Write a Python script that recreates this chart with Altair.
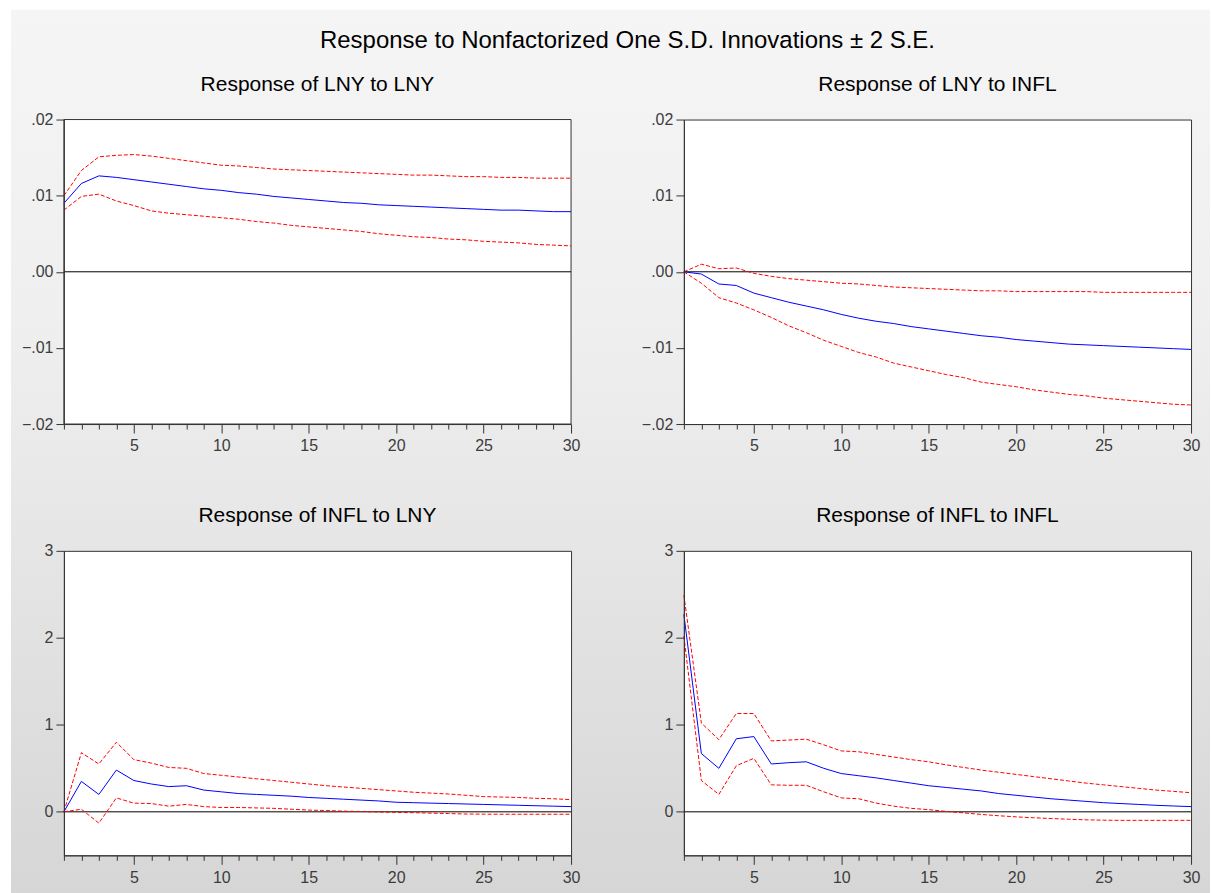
import altair as alt
import pandas as pd

# Horizon (periods after the shock)
periods = list(range(1, 31))

# Response of LNY to LNY
lny_lny = [.0090, .0116, .0126, .0124, .0121, .0118, .0115, .0112, .0109, .0107,
           .0104, .0102, .0099, .0097, .0095, .0093, .0091, .0090, .0088, .0087,
           .0086, .0085, .0084, .0083, .0082, .0081, .0081, .0080, .0079, .0079]
lny_lny_hi = [.0100, .0133, .0151, .0153, .0154, .0152, .0149, .0146, .0143, .0140,
              .0139, .0137, .0135, .0134, .0133, .0132, .0131, .0130, .0129, .0128,
              .0127, .0127, .0126, .0125, .0125, .0124, .0124, .0123, .0123, .0123]
lny_lny_lo = [.0081, .0099, .0102, .0093, .0087, .0080, .0077, .0075, .0073, .0071,
              .0069, .0066, .0064, .0061, .0059, .0057, .0055, .0053, .0050, .0048,
              .0046, .0045, .0043, .0042, .0040, .0039, .0038, .0036, .0035, .0034]

# Response of LNY to INFL
lny_infl = [0, -.0003, -.0016, -.0018, -.0028, -.0034, -.0040, -.0045, -.0050, -.0056,
            -.0061, -.0065, -.0068, -.0072, -.0075, -.0078, -.0081, -.0084, -.0086, -.0089,
            -.0091, -.0093, -.0095, -.0096, -.0097, -.0098, -.0099, -.0100, -.0101, -.0102]
lny_infl_hi = [0, .0010, .0004, .0005, -.0002, -.0006, -.0009, -.0011, -.0013, -.0015,
               -.0016, -.0018, -.0020, -.0021, -.0022, -.0023, -.0024, -.0025, -.0025, -.0026,
               -.0026, -.0026, -.0026, -.0026, -.0027, -.0027, -.0027, -.0027, -.0027, -.0027]
lny_infl_lo = [0, -.0015, -.0034, -.0041, -.0050, -.0060, -.0071, -.0080, -.0090, -.0098,
               -.0106, -.0112, -.0120, -.0125, -.0130, -.0135, -.0139, -.0145, -.0148, -.0151,
               -.0155, -.0158, -.0161, -.0163, -.0166, -.0168, -.0170, -.0172, -.0174, -.0175]

# Response of INFL to LNY
infl_lny = [0, .35, .20, .48, .36, .32, .29, .30, .25, .23,
            .21, .20, .19, .18, .165, .155, .145, .135, .125, .11,
            .105, .10, .095, .09, .085, .08, .075, .07, .065, .06]
infl_lny_hi = [0, .68, .55, .80, .60, .56, .51, .50, .44, .42,
               .40, .38, .36, .34, .32, .30, .285, .27, .255, .24,
               .225, .215, .205, .19, .175, .17, .165, .155, .15, .14]
infl_lny_lo = [0, .03, -.13, .16, .10, .095, .065, .085, .06, .05,
               .05, .045, .04, .03, .02, .015, .008, .003, -.002, -.006,
               -.01, -.015, -.02, -.025, -.027, -.028, -.028, -.028, -.028, -.028]

# Response of INFL to INFL
infl_infl = [2.27, .67, .50, .84, .865, .55, .565, .575, .50, .44,
             .415, .39, .36, .33, .30, .28, .26, .24, .21, .19,
             .17, .15, .135, .12, .105, .095, .085, .075, .067, .06]
infl_infl_hi = [2.49, 1.02, .83, 1.13, 1.13, .815, .825, .835, .77, .70,
                .69, .66, .63, .60, .575, .54, .51, .48, .455, .43,
                .405, .38, .355, .33, .31, .29, .27, .25, .235, .22]
infl_infl_lo = [2.02, .36, .20, .53, .615, .31, .305, .305, .23, .16,
                .15, .10, .065, .04, .025, .005, -.012, -.03, -.045, -.058,
                -.068, -.077, -.085, -.092, -.096, -.098, -.098, -.098, -.098, -.098]

FONT = "Liberation Sans, Arial, sans-serif"
W, H = 508, 305
INK = "#333333"
LABEL = "#3c3c3c"

one_row = pd.DataFrame({"k": [0]})


def x_axis():
    return alt.Axis(
        values=periods,
        labelExpr="datum.value % 5 === 0 ? datum.label : ''",
        tickSize={"condition": {"test": "datum.value % 5 === 0", "value": 9}, "value": 5},
        labelPadding=5, labelFontSize=16, labelFont=FONT, labelColor=LABEL,
        tickColor=INK, domainColor=INK, grid=False, labelOverlap=False,
        labelFlush=False, zindex=1, title=None,
    )


def y_axis(values, small):
    kw = dict(values=values, tickSize=8, labelPadding=3, labelFontSize=16,
              labelFont=FONT, labelColor=LABEL, tickColor=INK, domainColor=INK,
              grid=False, labelOverlap=False, labelFlush=False, zindex=1, title=None)
    if small:
        kw["labelExpr"] = "replace(format(datum.value, '.2f'), '0.', '.')"
    else:
        kw["format"] = "d"
    return alt.Axis(**kw)


def panel(title, resp, lo, hi, ydomain, yvalues, small, decor=None):
    df = pd.DataFrame({"period": periods, "Response": resp, "Lower": lo, "Upper": hi})
    xs = alt.X("period:Q", scale=alt.Scale(domain=[1, 30], nice=False, zero=False), axis=x_axis())
    ys = alt.Scale(domain=ydomain, nice=False, zero=False)
    base = alt.Chart(df)

    zero = alt.Chart(one_row).mark_rule(color="#000000", strokeWidth=1).encode(y=alt.datum(0))
    bands = base.transform_fold(["Lower", "Upper"], as_=["band", "value"]).mark_line(
        color="#ff0000", strokeWidth=1, strokeDash=[4, 2]
    ).encode(x=xs, y=alt.Y("value:Q", scale=ys, axis=y_axis(yvalues, small)), detail="band:N")
    line = base.mark_line(color="#0000ff", strokeWidth=1).encode(
        x=xs, y=alt.Y("Response:Q", scale=ys, axis=y_axis(yvalues, small))
    )
    head = alt.Chart(one_row).mark_text(
        text=title, font=FONT, fontSize=21, color="#000000", align="center", baseline="alphabetic"
    ).encode(x=alt.value(W / 2), y=alt.value(-29))

    layers = (decor or []) + [head, zero, bands, line]
    return alt.layer(*layers).properties(width=W, height=H)


# Figure backdrop (gray gradient), plot frame and the overall heading live in the first panel
backdrop = alt.Chart(one_row).mark_rect(
    color=alt.LinearGradient(
        gradient="linear",
        stops=[
            alt.GradientStop(color="#f5f5f5", offset=0),
            alt.GradientStop(color="#efefef", offset=0.35),
            alt.GradientStop(color="#e8e8e8", offset=0.55),
            alt.GradientStop(color="#d6d6d6", offset=1),
        ],
        x1=0, x2=0, y1=0, y2=1,
    )
).encode(x=alt.value(-53), x2=alt.value(1148), y=alt.value(-110), y2=alt.value(775))

frame = alt.Chart(one_row).mark_rect(fill="#ffffff", stroke=INK, strokeWidth=1).encode(
    x=alt.value(0), x2=alt.value(W), y=alt.value(0), y2=alt.value(H)
)

heading = alt.Chart(one_row).mark_text(
    text="Response to Nonfactorized One S.D. Innovations \u00b1 2 S.E.",
    font=FONT, fontSize=24, color="#000000", align="center", baseline="alphabetic",
).encode(x=alt.value(W + 113 / 2), y=alt.value(-72))

p1 = panel("Response of LNY to LNY", lny_lny, lny_lny_lo, lny_lny_hi,
           [-0.02, 0.02], [-0.02, -0.01, 0, 0.01, 0.02], True, decor=[backdrop, frame, heading])
p2 = panel("Response of LNY to INFL", lny_infl, lny_infl_lo, lny_infl_hi,
           [-0.02, 0.02], [-0.02, -0.01, 0, 0.01, 0.02], True)
p3 = panel("Response of INFL to LNY", infl_lny, infl_lny_lo, infl_lny_hi,
           [-0.5, 3], [0, 1, 2, 3], False)
p4 = panel("Response of INFL to INFL", infl_infl, infl_infl_lo, infl_infl_hi,
           [-0.5, 3], [0, 1, 2, 3], False)

chart = alt.concat(
    p1, p2, p3, p4, columns=2, spacing={"row": 127, "column": 113}, bounds="flush"
).properties(
    padding={"left": 10, "top": 8, "right": 0, "bottom": 0}, background="#ffffff"
).configure_view(
    fill="#ffffff", stroke=INK, strokeWidth=1
)

chart.save("out.html", embed_options={"renderer": "svg", "actions": False})
